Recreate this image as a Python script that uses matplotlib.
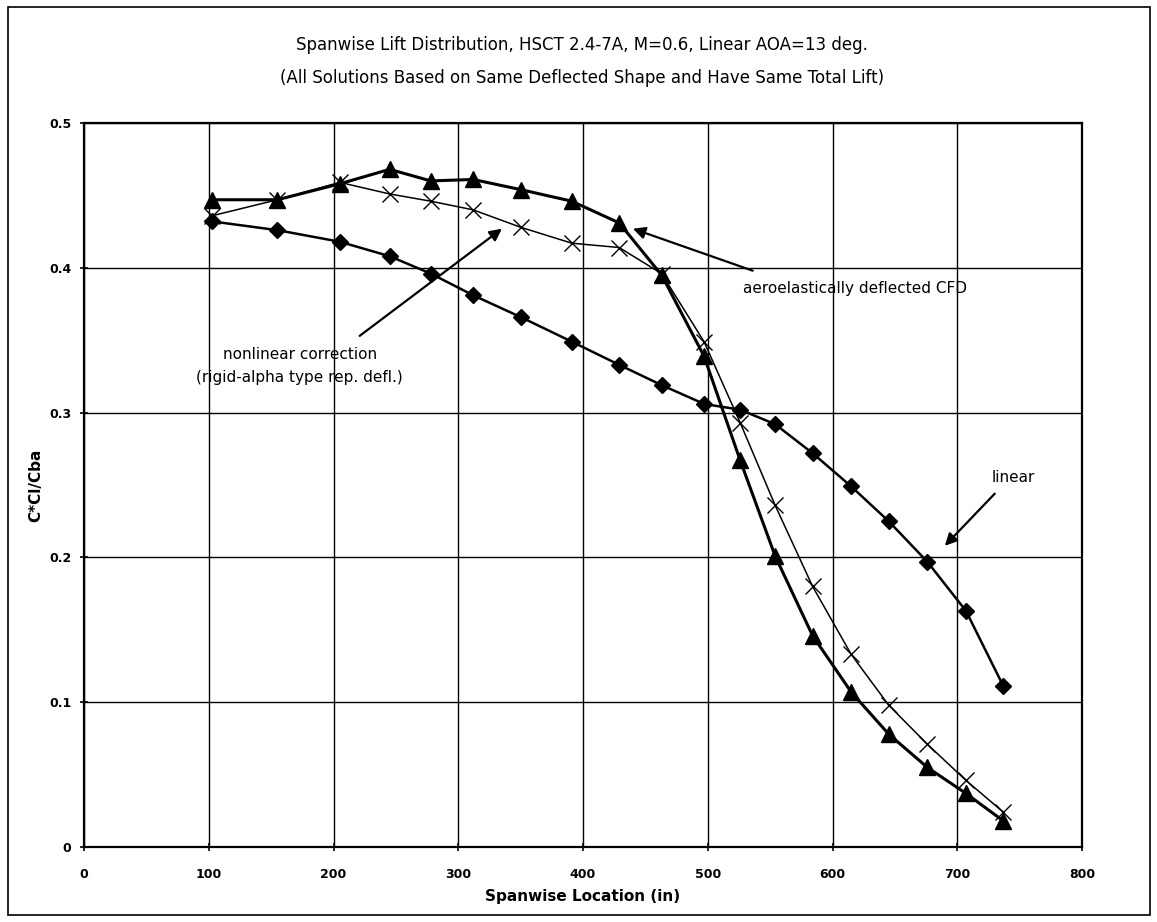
import matplotlib
matplotlib.use('Agg')
import matplotlib.pyplot as plt
from matplotlib.patches import Rectangle

# spanwise stations (in)
span = [103, 155, 205, 245, 278, 312, 350, 391, 429, 463, 497, 526, 554, 584, 615, 645, 676, 707, 737]

cfd = [0.447, 0.447, 0.458, 0.468, 0.460, 0.461, 0.454, 0.446, 0.431, 0.395, 0.339, 0.267, 0.201,
       0.146, 0.107, 0.078, 0.055, 0.037, 0.018]
nonlinear = [0.436, 0.447, 0.459, 0.451, 0.446, 0.440, 0.428, 0.417, 0.414, 0.396, 0.349, 0.293, 0.236,
             0.180, 0.133, 0.098, 0.071, 0.046, 0.024]
linear = [0.432, 0.426, 0.418, 0.408, 0.396, 0.381, 0.366, 0.349, 0.333, 0.319, 0.306, 0.302, 0.292,
          0.272, 0.249, 0.225, 0.197, 0.163, 0.111]

xticks = [0, 100, 200, 300, 400, 500, 600, 700, 800]
yticks = [0, 0.1, 0.2, 0.3, 0.4, 0.5]
ytick_labels = ['0', '0.1', '0.2', '0.3', '0.4', '0.5']

plt.rcParams['font.family'] = ['DejaVu Sans']

fig = plt.figure(figsize=(11.57, 9.22), dpi=100)
ax = fig.add_axes([0.0726, 0.0813, 0.8626, 0.7853])

fig.patches.append(Rectangle((0.007, 0.008), 0.987, 0.984, transform=fig.transFigure,
                             fill=False, edgecolor='black', linewidth=1.2))

ax.plot(span, linear, color='black', linewidth=1.8, marker='D', markersize=8, zorder=3)
ax.plot(span, nonlinear, color='black', linewidth=1.1, marker='x', markersize=11,
        markeredgewidth=1.0, zorder=4)
ax.plot(span, cfd, color='black', linewidth=2.2, marker='^', markersize=11, zorder=5)

ax.set_xlim(0, 800)
ax.set_ylim(0, 0.5)
ax.set_xticks(xticks)
ax.set_yticks(yticks)
ax.set_yticklabels(ytick_labels)
ax.grid(True, color='black', linewidth=1.0)
ax.set_axisbelow(True)
for s in ax.spines.values():
    s.set_linewidth(1.6)
ax.tick_params(direction='inout', length=6, width=1.2, labelsize=9, pad=6)
for lbl in ax.get_xticklabels() + ax.get_yticklabels():
    lbl.set_fontweight('bold')
ax.xaxis.set_tick_params(pad=12)

ax.set_xlabel('Spanwise Location (in)', fontsize=11, fontweight='bold', labelpad=6)
ax.set_ylabel('C*Cl/Cba', fontsize=11, fontweight='bold', labelpad=4)

fig.text(0.503, 0.951, 'Spanwise Lift Distribution, HSCT 2.4-7A, M=0.6, Linear AOA=13 deg.',
         ha='center', va='center', fontsize=12)
fig.text(0.503, 0.915, '(All Solutions Based on Same Deflected Shape and Have Same Total Lift)',
         ha='center', va='center', fontsize=12)

arrow = dict(arrowstyle='-|>', color='black', linewidth=1.6, mutation_scale=18, shrinkA=0, shrinkB=0)

ax.annotate('', xy=(440, 0.427), xytext=(536, 0.398), arrowprops=arrow)
ax.text(528, 0.386, 'aeroelastically deflected CFD', ha='left', va='center', fontsize=11)

ax.annotate('', xy=(335, 0.427), xytext=(221, 0.353), arrowprops=arrow)
ax.text(173, 0.340, 'nonlinear correction', ha='center', va='center', fontsize=11)
ax.text(173, 0.324, '(rigid-alpha type rep. defl.)', ha='center', va='center', fontsize=11)

ax.annotate('', xy=(690, 0.208), xytext=(730, 0.244), arrowprops=arrow)
ax.text(745, 0.255, 'linear', ha='center', va='center', fontsize=11)

fig.savefig('out.png', dpi=100)
